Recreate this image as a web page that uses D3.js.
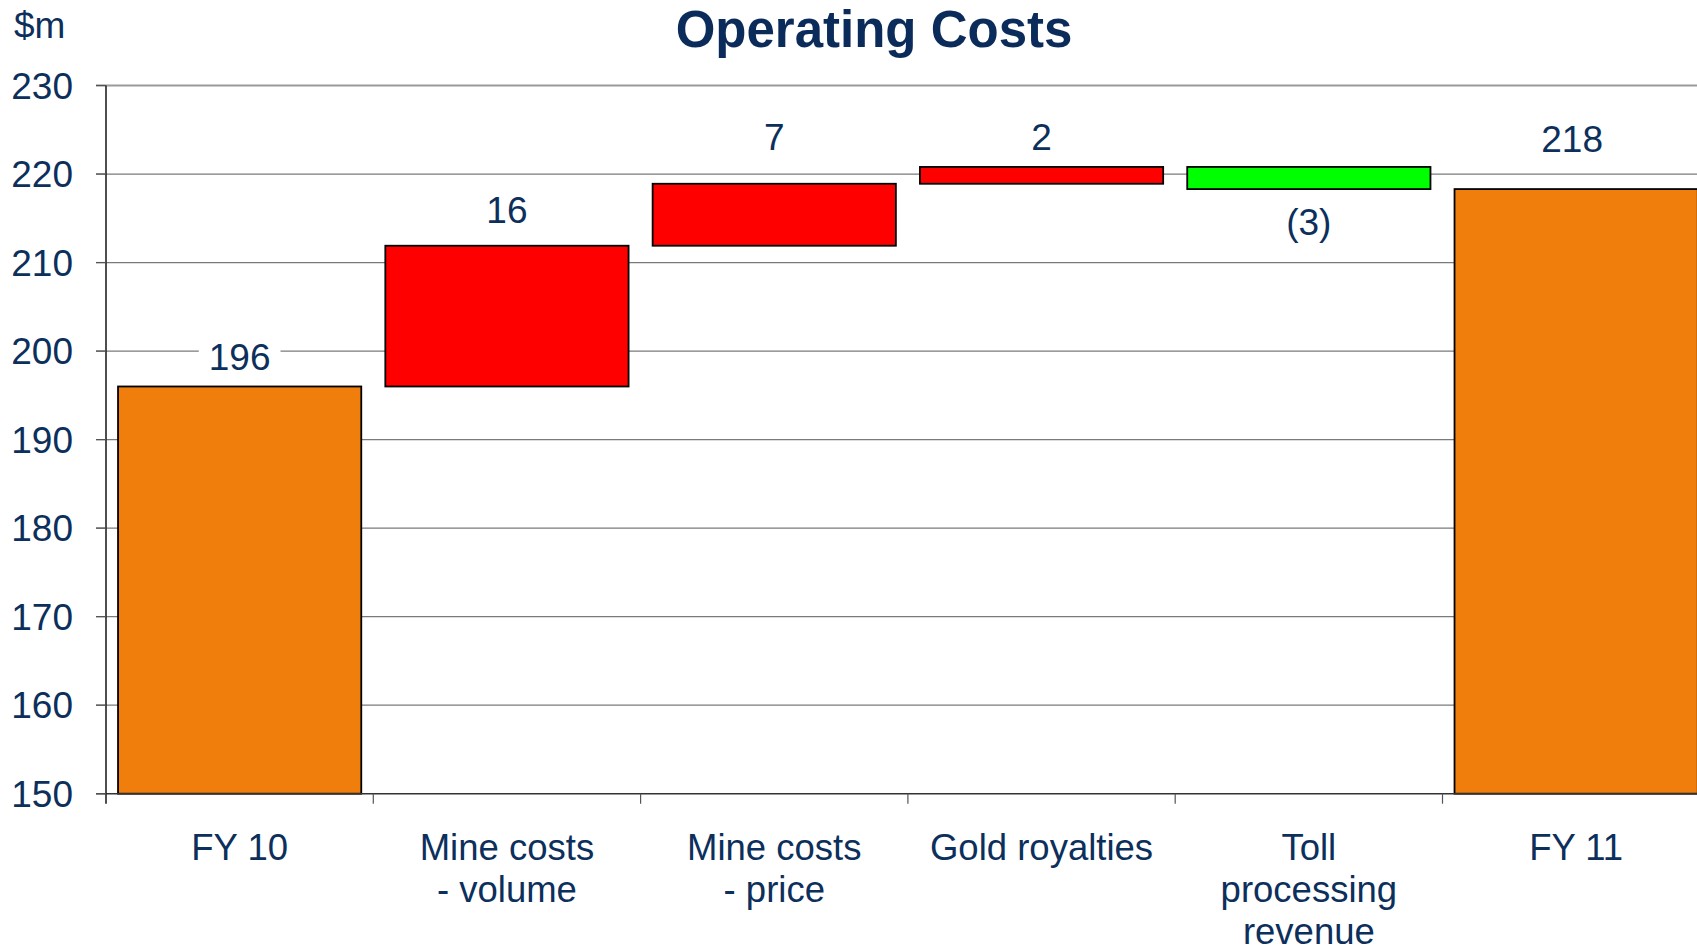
<!DOCTYPE html>
<html>
<head>
<meta charset="utf-8">
<script src="https://cdn.jsdelivr.net/npm/d3@7/dist/d3.min.js"></script>
<style>
  html, body { margin: 0; padding: 0; background: #ffffff; }
  svg { display: block; }
  text { font-family: "Liberation Sans", Arial, Helvetica, sans-serif; }
</style>
</head>
<body>
<svg id="chart" width="1697" height="951"></svg>
<script>
// ---------------- data ----------------
const categories = [
  ["FY 10"],
  ["Mine costs", "- volume"],
  ["Mine costs", "- price"],
  ["Gold royalties"],
  ["Toll", "processing", "revenue"],
  ["FY 11"]
];
const kinds = ["total", "delta", "delta", "delta", "delta", "total"];
const values = [196.0, 15.9, 7.0, 1.9, -2.5, 218.3];
const valueLabels = ["196", "16", "7", "2", "(3)", "218"];
const yTicks = [150, 160, 170, 180, 190, 200, 210, 220, 230];
const titleText = "Operating Costs";
const unitText = "$m";

// ---------------- layout / style ----------------
const W = 1697, H = 951;
const axisX = 106, yBottom = 793.7, yTop = 85.5;
const step = 267.3;
const labelGap = [16.6, 23, 33.5, 17.4, 45.7, 37]; // px from bar edge to label baseline
const labelDx = [0, 0, 0, 0, 0, -4];
const textColor = "#0c2f5c";
const colTotal = "#f07e0c", colUp = "#ff0000", colDown = "#00ff00";

const svg = d3.select("#chart");

// build waterfall segments
let running = 0;
const segs = values.map((v, i) => {
  let lo, hi;
  if (kinds[i] === "total") { lo = 150; hi = v; running = v; }
  else { const s = running; running = s + v; lo = Math.min(s, running); hi = Math.max(s, running); }
  return { i, v, lo, hi, kind: kinds[i], label: valueLabels[i], lines: categories[i] };
});

const x = d3.scaleBand()
  .domain(d3.range(categories.length))
  .range([axisX, axisX + step * categories.length])
  .paddingInner(0.09).paddingOuter(0.045);
const y = d3.scaleLinear().domain([150, 230]).range([yBottom, yTop]);

svg.append("defs").append("clipPath").attr("id", "clip")
  .append("rect").attr("x", 0).attr("y", 0).attr("width", W).attr("height", H);

// gridlines
svg.append("g").selectAll("line").data(yTicks.filter(t => t !== 150)).join("line")
  .attr("x1", axisX - 10).attr("x2", W)
  .attr("y1", d => y(d)).attr("y2", d => y(d))
  .attr("stroke", d => d === 230 ? "#9a9a9a" : "#7a7a7a")
  .attr("stroke-width", d => d === 230 ? 2 : 1.2);

// y tick labels
svg.append("g").selectAll("text").data(yTicks).join("text")
  .attr("x", 73).attr("y", d => y(d)).attr("dy", "0.36em")
  .attr("text-anchor", "end").attr("font-size", 37).attr("fill", textColor)
  .text(d => d);

// unit label
svg.append("text").attr("x", 14).attr("y", 38)
  .attr("font-size", 37).attr("fill", textColor).text(unitText);

// title
svg.append("text").attr("x", 874).attr("y", 47)
  .attr("text-anchor", "middle").attr("font-size", 51).attr("font-weight", "bold")
  .attr("fill", "#0b2c5a").text(titleText);

// value labels (with white background)
const lab = svg.append("g");
segs.forEach(s => {
  const cx = x(s.i) + x.bandwidth() / 2 + labelDx[s.i];
  const down = s.kind === "delta" && s.v < 0;
  const by = down ? y(s.lo) + labelGap[s.i] : y(s.hi) - labelGap[s.i];
  const g = lab.append("g");
  const t = g.append("text").attr("x", cx).attr("y", by)
    .attr("text-anchor", "middle").attr("font-size", 37).attr("fill", textColor)
    .text(s.label);
  const bb = t.node().getBBox();
  g.insert("rect", "text").attr("x", bb.x - 10).attr("y", bb.y + 3)
    .attr("width", bb.width + 20).attr("height", bb.height - 6).attr("fill", "#ffffff");
});

// bars
svg.append("g").attr("clip-path", "url(#clip)")
  .selectAll("rect").data(segs).join("rect")
  .attr("x", d => x(d.i)).attr("width", x.bandwidth())
  .attr("y", d => y(d.hi)).attr("height", d => y(d.lo) - y(d.hi))
  .attr("fill", d => d.kind === "total" ? colTotal : (d.v >= 0 ? colUp : colDown))
  .attr("stroke", "#000").attr("stroke-width", 1.8);

// x axis baseline and ticks at category boundaries
svg.append("line").attr("x1", axisX - 10).attr("x2", W)
  .attr("y1", yBottom).attr("y2", yBottom)
  .attr("stroke", "#333").attr("stroke-width", 1.6);
svg.append("g").selectAll("line").data(d3.range(1, categories.length)).join("line")
  .attr("x1", d => x(d) - (x.step() - x.bandwidth()) / 2)
  .attr("x2", d => x(d) - (x.step() - x.bandwidth()) / 2)
  .attr("y1", yBottom).attr("y2", yBottom + 10)
  .attr("stroke", "#555").attr("stroke-width", 1.2);

// y axis line and ticks
svg.append("line").attr("x1", axisX).attr("x2", axisX)
  .attr("y1", yTop).attr("y2", yBottom + 10)
  .attr("stroke", "#222").attr("stroke-width", 1.6);
svg.append("g").selectAll("line").data(yTicks).join("line")
  .attr("x1", axisX - 10).attr("x2", axisX)
  .attr("y1", d => y(d)).attr("y2", d => y(d))
  .attr("stroke", "#555").attr("stroke-width", 1.2);

// category labels
const cat = svg.append("g");
segs.forEach(s => {
  const cx = x(s.i) + x.bandwidth() / 2;
  const t = cat.append("text").attr("text-anchor", "middle")
    .attr("font-size", 36.5).attr("fill", textColor);
  s.lines.forEach((ln, k) => {
    t.append("tspan").attr("x", cx).attr("y", 860 + k * 42).text(ln);
  });
});
</script>
</body>
</html>
